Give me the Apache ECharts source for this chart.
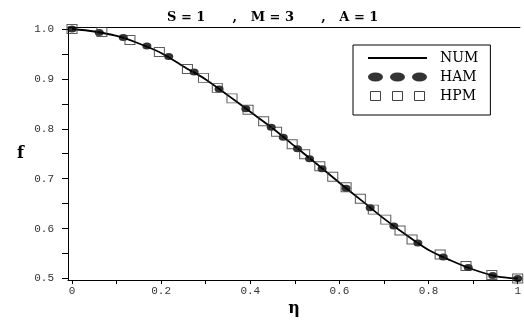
<!DOCTYPE html>
<html>
<head>
<meta charset="utf-8">
<script src="https://cdn.jsdelivr.net/npm/echarts@6/dist/echarts.min.js"></script>
<style>
  html, body { margin: 0; padding: 0; background: #fff; }
  #chart { width: 524px; height: 322px; }
</style>
</head>
<body>
<div id="chart"></div>
<script>
// NUM (solid curve)
const etaNum = [0, 0.05, 0.1, 0.15, 0.2, 0.25, 0.3, 0.35, 0.4, 0.45, 0.5,
  0.55, 0.6, 0.65, 0.7, 0.75, 0.8, 0.85, 0.9, 0.95, 1];
const fNum = [1.0, 0.995, 0.986, 0.971, 0.952, 0.925, 0.899, 0.867, 0.834, 0.801, 0.765,
  0.729, 0.692, 0.656, 0.62, 0.587, 0.557, 0.536, 0.518, 0.505, 0.5];

// HAM (filled circles)
const etaHam = [0, 0.061, 0.115, 0.168, 0.217, 0.274, 0.33, 0.39, 0.447, 0.474, 0.506,
  0.533, 0.561, 0.615, 0.669, 0.722, 0.776, 0.833, 0.889, 0.944, 1];
const fHam = [1.0, 0.993, 0.983, 0.966, 0.945, 0.914, 0.88, 0.84, 0.803, 0.783, 0.76,
  0.74, 0.72, 0.681, 0.642, 0.605, 0.571, 0.543, 0.522, 0.506, 0.5];

// HPM (open squares)
const etaHpm = [0, 0.067, 0.13, 0.196, 0.259, 0.295, 0.326, 0.359, 0.395, 0.43, 0.459,
  0.494, 0.522, 0.556, 0.585, 0.615, 0.647, 0.676, 0.704, 0.736, 0.763, 0.826, 0.884, 0.942, 1];
const fHpm = [1.0, 0.994, 0.978, 0.954, 0.92, 0.902, 0.882, 0.861, 0.838, 0.815, 0.794,
  0.769, 0.749, 0.725, 0.704, 0.683, 0.66, 0.638, 0.618, 0.596, 0.578, 0.548, 0.525, 0.507, 0.5];

const xTicks = [0, 0.1, 0.2, 0.3, 0.4, 0.5, 0.6, 0.7, 0.8, 0.9, 1];
const xLabels = [0, 0.2, 0.4, 0.6, 0.8, 1];
const yTicks = [0.5, 0.55, 0.6, 0.65, 0.7, 0.75, 0.8, 0.85, 0.9, 0.95, 1.0];
const yLabels = [0.5, 0.6, 0.7, 0.8, 0.9, 1.0];

const zip = (xs, ys) => xs.map((x, i) => [x, ys[i]]);

const chart = echarts.init(document.getElementById("chart"), null, { renderer: "canvas" });

const tickFont = { fontFamily: "Liberation Mono", fontSize: 11, color: "#333" };
const xMin = -0.009, xMax = 1.005;

chart.setOption({
  animation: false,
  backgroundColor: "#fff",
  title: {
    text: "S = 1      ,   M = 3      ,   A = 1",
    left: 162,
    top: 6,
    textStyle: { fontFamily: "DejaVu Serif", fontWeight: "bold", fontSize: 13, color: "#000" }
  },
  grid: { left: 68, right: 0, top: 27, bottom: 39 },
  legend: {
    left: 353,
    top: 45,
    orient: "vertical",
    selectedMode: false,
    backgroundColor: "#fff",
    borderColor: "#000",
    borderWidth: 1,
    borderRadius: 0,
    padding: [6, 12, 12, 15],
    itemWidth: 59,
    itemHeight: 9,
    itemGap: 5,
    textStyle: { fontFamily: "DejaVu Serif", fontSize: 14, color: "#000", lineHeight: 12, padding: [0, 0, 0, 8] },
    data: [
      { name: "NUM", icon: "path://M0,0H59V2H0Z", itemStyle: { color: "#000", borderWidth: 0 } },
      {
        name: "HAM",
        icon: "path://M0,4.5a7.5,4.5 0 1,0 15,0a7.5,4.5 0 1,0 -15,0Z M22,4.5a7.5,4.5 0 1,0 15,0a7.5,4.5 0 1,0 -15,0Z M44,4.5a7.5,4.5 0 1,0 15,0a7.5,4.5 0 1,0 -15,0Z",
        itemStyle: { color: "#000", borderWidth: 0 }
      },
      {
        name: "HPM",
        icon: "path://M0,0H10V9H0Z M22,0H32V9H22Z M44,0H54V9H44Z",
        itemStyle: { color: "rgba(0,0,0,0)", borderColor: "#111", borderWidth: 1 }
      }
    ]
  },
  xAxis: [
    {
      type: "value",
      min: xMin,
      max: xMax,
      name: "η",
      nameLocation: "middle",
      nameGap: 20,
      nameTextStyle: { fontFamily: "DejaVu Serif", fontSize: 16, fontWeight: "bold", color: "#000" },
      axisLine: { show: true, onZero: false, lineStyle: { color: "#000", width: 1 } },
      axisTick: { show: true, length: 4, customValues: xTicks, lineStyle: { color: "#000" } },
      axisLabel: {
        ...tickFont,
        margin: 5,
        customValues: xLabels,
        formatter: (v) => (v === 0 || v === 1 ? String(v) : v.toFixed(1))
      },
      splitLine: { show: false }
    },
    {
      type: "value",
      position: "top",
      min: xMin,
      max: xMax,
      axisLine: { show: true, onZero: false, lineStyle: { color: "#000", width: 1 } },
      axisTick: { show: false },
      axisLabel: { show: false },
      splitLine: { show: false }
    }
  ],
  yAxis: {
    type: "value",
    min: 0.4968,
    max: 1.004,
    name: "f",
    nameLocation: "middle",
    nameRotate: 0,
    nameGap: 44,
    nameTextStyle: { fontFamily: "DejaVu Serif", fontSize: 16, fontWeight: "bold", color: "#000" },
    axisLine: { show: true, onZero: false, lineStyle: { color: "#000", width: 1 } },
    axisTick: { show: true, length: 6, customValues: yTicks, lineStyle: { color: "#000" } },
    axisLabel: {
      ...tickFont,
      margin: 14,
      customValues: yLabels,
      formatter: (v) => v.toFixed(1)
    },
    splitLine: { show: false }
  },
  series: [
    {
      name: "NUM",
      type: "line",
      data: zip(etaNum, fNum),
      smooth: 0.3,
      showSymbol: false,
      lineStyle: { color: "#000", width: 1.8 },
      itemStyle: { color: "#000" },
      z: 2
    },
    {
      name: "HAM",
      type: "scatter",
      data: zip(etaHam, fHam),
      symbol: "circle",
      symbolSize: [9, 7],
      itemStyle: { color: "#000" },
      z: 3
    },
    {
      name: "HPM",
      type: "scatter",
      data: zip(etaHpm, fHpm),
      symbol: "rect",
      symbolSize: [10, 9],
      itemStyle: { color: "rgba(0,0,0,0)", borderColor: "#333", borderWidth: 1 },
      z: 4
    }
  ]
});
</script>
</body>
</html>
